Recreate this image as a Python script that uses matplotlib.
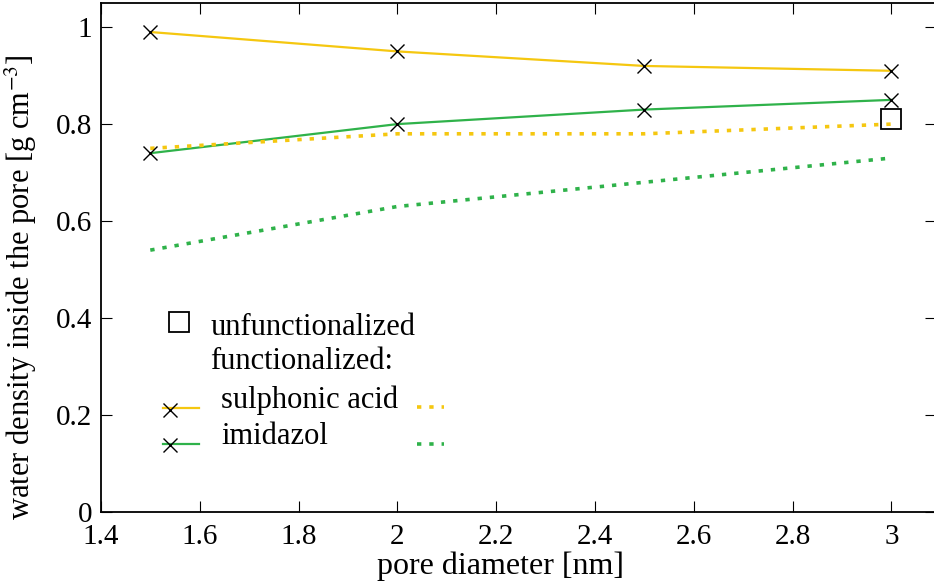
import matplotlib
matplotlib.use("Agg")
import matplotlib.pyplot as plt

plt.rcParams["font.family"] = ["Liberation Serif", "DejaVu Serif"]
plt.rcParams["mathtext.fontset"] = "stix"

# pore diameter [nm]
diam = [1.5, 2.0, 2.5, 3.0]

# functionalized (solid, with markers)
sulph_func = [0.99, 0.95, 0.92, 0.91]
imid_func = [0.74, 0.80, 0.83, 0.85]

# dotted series
sulph_dot = [0.75, 0.78, 0.78, 0.80]
imid_dot = [0.54, 0.63, 0.68, 0.73]

# unfunctionalized
unf_x = [3.0]
unf_y = [0.81]

xticks = [1.4, 1.6, 1.8, 2.0, 2.2, 2.4, 2.6, 2.8, 3.0]
xtick_labels = ["1.4", "1.6", "1.8", "2", "2.2", "2.4", "2.6", "2.8", "3"]
yticks = [0, 0.2, 0.4, 0.6, 0.8, 1.0]
ytick_labels = ["0", "0.2", "0.4", "0.6", "0.8", "1"]

YEL = "#f5c710"
GRN = "#2fb24a"
DOT = (0, (1.2, 2.2))

fig = plt.figure(figsize=(9.34, 5.87), dpi=100)
ax = fig.add_axes([0.108, 0.128, 0.894, 0.867])

ax.plot(diam, sulph_func, color=YEL, lw=1.6, zorder=2)
ax.plot(diam, imid_func, color=GRN, lw=1.6, zorder=2)
ax.plot(diam, sulph_dot, color=YEL, lw=2.6, linestyle=DOT, zorder=2)
ax.plot(diam, imid_dot, color=GRN, lw=2.6, linestyle=DOT, zorder=2)
ax.plot(diam, sulph_func, "x", color="black", ms=10, mew=1.0, zorder=3)
ax.plot(diam, imid_func, "x", color="black", ms=10, mew=1.0, zorder=3)
ax.plot(unf_x, unf_y, "s", mfc="none", mec="black", ms=14, mew=1.3, zorder=3)

ax.set_xlim(1.4, 3.09)
ax.set_ylim(0, 1.05)
ax.set_xticks(xticks)
ax.set_xticklabels(xtick_labels)
ax.set_yticks(yticks)
ax.set_yticklabels(ytick_labels)
ax.tick_params(direction="in", length=8, width=0.8, labelsize=21,
               top=True, right=True)
ax.tick_params(axis="x", pad=9)
ax.tick_params(axis="y", pad=6)
for s in ax.spines.values():
    s.set_linewidth(1.3)

ax.set_xlabel("pore diameter [nm]", fontsize=23)
ax.xaxis.set_label_coords(0.478, -0.077)
ax.set_ylabel("water density inside the pore [g cm$^{-3}$]", fontsize=22)
ax.yaxis.set_label_coords(-0.074, 0.442)

# hand-made legend (axes coordinates)
T = ax.transAxes
fs = 22
ax.plot([0.093], [0.373], "s", mfc="none", mec="black", ms=14, mew=1.3, transform=T, clip_on=False)
ax.text(0.131, 0.363, "unfunctionalized", fontsize=fs, va="center", transform=T)
ax.text(0.131, 0.295, "functionalized:", fontsize=fs, va="center", transform=T)
ax.text(0.144, 0.220, "sulphonic acid", fontsize=fs, va="center", transform=T)
ax.text(0.144, 0.149, "imidazol", fontsize=fs, va="center", transform=T)
ax.plot([0.074, 0.117], [0.204, 0.204], color=YEL, lw=1.6, transform=T)
ax.plot([0.083], [0.200], "x", color="black", ms=10, mew=1.0, transform=T)
ax.plot([0.074, 0.117], [0.134, 0.134], color=GRN, lw=1.6, transform=T)
ax.plot([0.083], [0.131], "x", color="black", ms=10, mew=1.0, transform=T)
ax.plot([0.379, 0.411], [0.206, 0.206], color=YEL, lw=2.6, linestyle=DOT, transform=T)
ax.plot([0.379, 0.411], [0.134, 0.134], color=GRN, lw=2.6, linestyle=DOT, transform=T)

fig.savefig("out.png", dpi=100)
